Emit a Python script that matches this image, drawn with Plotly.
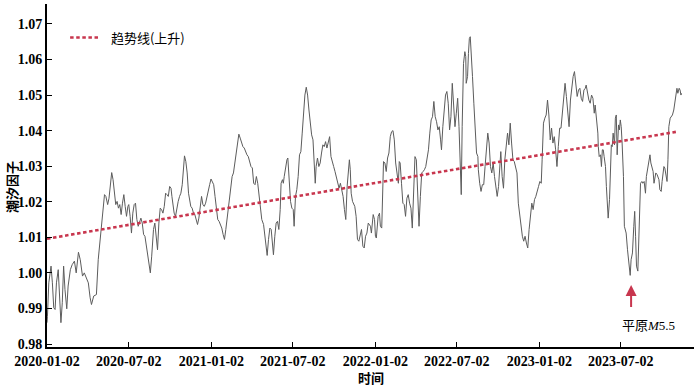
import pandas as pd
import plotly.graph_objects as go

# ---- data ----
start_date = "2020-01-02"
days_since_start = [
    0, 1, 4, 9, 12, 15, 18, 21, 25, 28, 31, 34, 37, 40, 44, 47, 52, 56, 61, 65, 70, 74, 79, 83, 87, 92, 96, 99,
    104, 110, 114, 119, 123, 128, 131, 135, 138, 141, 144, 147, 150, 153, 156, 159, 162, 165, 168, 171, 174,
    177, 180, 182, 185, 188, 191, 194, 197, 200, 203, 206, 209, 212, 215, 218, 221, 224, 227, 230, 233, 237, 240,
    243, 246, 249, 252, 255, 258, 261, 264, 267, 270, 273, 276, 278, 280, 283, 286, 289, 292, 295, 298, 301,
    304, 306, 309, 312, 315, 317, 320, 323, 326, 329, 332, 335, 338, 341, 344, 347, 350, 353, 356, 359, 362,
    365, 368, 371, 374, 377, 380, 383, 386, 389, 392, 395, 398, 401, 404, 407, 410, 412, 415, 418, 421, 424,
    427, 430, 433, 436, 439, 442, 445, 448, 451, 454, 457, 460, 463, 466, 469, 472, 475, 478,
    482, 485, 488, 490, 493, 496, 499, 502, 504, 507, 510, 513, 516, 519, 521, 524, 526, 528, 531, 534, 536,
    539, 542, 545, 548, 550, 553, 556, 559, 562, 565, 568, 571, 574, 577, 580, 583, 586, 589, 592, 595, 597,
    599, 602, 605, 608, 611, 614, 617, 620, 623, 626, 629, 632, 635, 638, 641, 644, 647, 650, 653, 656, 659,
    662, 665, 668, 671, 673, 675, 677, 680, 682, 685, 688, 691, 694, 697, 700, 703, 706, 709, 712, 715,
    720, 722, 724, 726, 729, 731, 733, 735, 737, 740, 742, 745, 747, 749, 752, 755, 758, 761, 764, 767, 770,
    773, 776, 779, 782, 784, 786, 789, 792, 795, 798, 801, 804, 807, 810, 813, 816, 819, 822, 825, 828, 831,
    834, 837, 840, 843, 846, 849, 852, 855, 858, 861, 864, 867, 870, 873, 876, 878, 881, 884, 887, 890, 893,
    896, 899, 902, 905, 908, 911, 914, 917, 920, 922, 924, 927, 930, 932, 933, 936, 938, 940, 942, 944, 947,
    950, 953, 956, 959,
    960, 963, 966, 969, 972, 975, 978, 981, 984, 987, 990, 993, 996, 999, 1002, 1005, 1008, 1010, 1013, 1016,
    1019, 1022, 1025, 1028, 1031, 1034, 1037, 1040, 1043, 1046, 1049, 1052, 1055, 1058, 1061, 1064, 1067,
    1070, 1073, 1076, 1079, 1082, 1085, 1088, 1091, 1094, 1097, 1100, 1102, 1105, 1108, 1111, 1114, 1117,
    1120, 1123, 1126, 1129, 1132, 1135, 1138, 1141, 1144, 1147, 1150, 1153, 1156, 1159, 1162, 1165, 1168,
    1171, 1174, 1177, 1180, 1183, 1186, 1189, 1192, 1195, 1198,
    1200, 1203, 1206, 1209, 1212, 1215, 1218, 1220, 1223, 1226, 1227, 1229, 1232, 1234, 1236, 1238, 1240,
    1243, 1245, 1247, 1249, 1252, 1254, 1256, 1258, 1260, 1263, 1265, 1267, 1269, 1272, 1274, 1276, 1278,
    1280, 1283, 1285, 1287, 1289, 1292, 1294, 1296, 1298, 1300, 1303, 1306, 1308, 1310, 1312, 1315, 1317,
    1319, 1321, 1324, 1326, 1329, 1332, 1334, 1337, 1340, 1342, 1344, 1346, 1349, 1351, 1353, 1355, 1358,
    1360, 1362, 1364, 1367, 1369, 1371, 1373, 1375, 1378, 1380, 1382, 1384, 1387, 1389, 1392, 1395, 1398,
    1400, 1402, 1404, 1407, 1409, 1411, 1412,
]
tidal_factor = [
    0.9860, 0.9878, 0.9972, 1.0019, 0.9972, 0.9902, 0.9897, 0.9972, 1.0009, 0.9935, 0.9860, 0.9916, 1.0019,
    0.9953, 0.9899, 0.9963, 1.0009, 1.0023, 1.0033, 1.0000, 1.0058, 1.0037, 0.9991, 1.0000, 0.9986, 0.9972,
    0.9930, 0.9911, 0.9935, 0.9939, 1.0037, 1.0103, 1.0159, 1.0220, 1.0215, 1.0192, 1.0210, 1.0252, 1.0282,
    1.0262, 1.0220, 1.0192, 1.0201, 1.0182, 1.0192, 1.0164, 1.0196, 1.0220, 1.0187, 1.0159, 1.0187, 1.0192,
    1.0159, 1.0112, 1.0168, 1.0192, 1.0196, 1.0150, 1.0131, 1.0145, 1.0154, 1.0140, 1.0108, 1.0103, 1.0075,
    1.0042, 1.0028, 1.0000, 1.0047, 1.0122, 1.0140,
    1.0103, 1.0065, 1.0140, 1.0182, 1.0178, 1.0168, 1.0187, 1.0224, 1.0220, 1.0215, 1.0243, 1.0238, 1.0215,
    1.0187, 1.0168, 1.0159, 1.0187, 1.0201, 1.0215, 1.0224, 1.0248, 1.0299, 1.0329, 1.0313, 1.0281, 1.0224,
    1.0206, 1.0187, 1.0182, 1.0168, 1.0164, 1.0150, 1.0136, 1.0154, 1.0178, 1.0215, 1.0192, 1.0187, 1.0196,
    1.0215, 1.0238, 1.0248, 1.0264, 1.0254, 1.0248, 1.0215, 1.0178, 1.0150, 1.0145, 1.0136, 1.0126, 1.0108,
    1.0094, 1.0122, 1.0154, 1.0187, 1.0215, 1.0252, 1.0271, 1.0281, 1.0309, 1.0337, 1.0365, 1.0390, 1.0379,
    1.0369, 1.0355, 1.0351, 1.0341, 1.0332, 1.0327, 1.0313, 1.0299, 1.0295, 1.0252, 1.0248, 1.0271, 1.0252,
    1.0215, 1.0178, 1.0150,
    1.0136, 1.0103, 1.0056, 1.0049, 1.0094, 1.0126, 1.0122, 1.0084, 1.0051, 1.0103, 1.0140, 1.0145, 1.0122,
    1.0178, 1.0252, 1.0262, 1.0252, 1.0271, 1.0299, 1.0318, 1.0323, 1.0243, 1.0201, 1.0182, 1.0178, 1.0131,
    1.0215, 1.0234, 1.0271, 1.0332, 1.0341, 1.0393, 1.0449, 1.0500, 1.0522, 1.0500, 1.0458, 1.0421, 1.0388,
    1.0374, 1.0309, 1.0252, 1.0299, 1.0323, 1.0299, 1.0309, 1.0337, 1.0360, 1.0355, 1.0369, 1.0351, 1.0365,
    1.0383, 1.0327, 1.0309, 1.0299, 1.0285, 1.0271, 1.0252, 1.0238, 1.0252, 1.0234, 1.0215, 1.0178, 1.0150,
    1.0243, 1.0299, 1.0318, 1.0290, 1.0224, 1.0201, 1.0196, 1.0187, 1.0159, 1.0094, 1.0089, 1.0112, 1.0122,
    1.0075, 1.0070, 1.0103, 1.0112, 1.0140,
    1.0131, 1.0112, 1.0154, 1.0164, 1.0150, 1.0103, 1.0098, 1.0131, 1.0159, 1.0168, 1.0131, 1.0126, 1.0224,
    1.0313, 1.0309, 1.0285, 1.0323, 1.0337, 1.0383, 1.0397, 1.0400, 1.0374, 1.0309, 1.0281, 1.0252, 1.0313,
    1.0309, 1.0252, 1.0196, 1.0192, 1.0159, 1.0210, 1.0220, 1.0196, 1.0182, 1.0126, 1.0243, 1.0327, 1.0318,
    1.0234, 1.0131, 1.0215, 1.0281, 1.0285, 1.0290, 1.0299, 1.0318, 1.0346, 1.0393, 1.0430, 1.0439, 1.0482,
    1.0439, 1.0425, 1.0402, 1.0411, 1.0374, 1.0346, 1.0411, 1.0458, 1.0500, 1.0510, 1.0477, 1.0402, 1.0439,
    1.0533, 1.0477, 1.0411, 1.0449, 1.0491, 1.0411, 1.0299, 1.0220, 1.0411, 1.0589, 1.0622, 1.0608, 1.0533,
    1.0552, 1.0617, 1.0659, 1.0664, 1.0626, 1.0552, 1.0477, 1.0421, 1.0337, 1.0327,
    1.0290, 1.0252, 1.0229, 1.0248, 1.0248, 1.0299, 1.0355, 1.0393, 1.0365, 1.0299, 1.0281, 1.0309, 1.0271,
    1.0243, 1.0215, 1.0243, 1.0299, 1.0341, 1.0271, 1.0238, 1.0318, 1.0355, 1.0393, 1.0360, 1.0421, 1.0365,
    1.0318, 1.0313, 1.0299, 1.0281, 1.0196, 1.0159, 1.0122, 1.0103, 1.0089, 1.0103, 1.0084, 1.0070, 1.0122,
    1.0168, 1.0196, 1.0178, 1.0206, 1.0215, 1.0234, 1.0243, 1.0257, 1.0252, 1.0318, 1.0421, 1.0435, 1.0444,
    1.0486, 1.0444, 1.0374, 1.0407, 1.0365, 1.0383, 1.0346, 1.0299, 1.0355, 1.0407, 1.0407, 1.0449, 1.0514,
    1.0533, 1.0496, 1.0449, 1.0411, 1.0486, 1.0524, 1.0552, 1.0566, 1.0528, 1.0496, 1.0514, 1.0519, 1.0491,
    1.0482, 1.0514, 1.0519,
    1.0528, 1.0505, 1.0486, 1.0477, 1.0500, 1.0491, 1.0449, 1.0472, 1.0430, 1.0393, 1.0355, 1.0327, 1.0332,
    1.0299, 1.0346, 1.0346, 1.0327, 1.0299, 1.0243, 1.0178, 1.0154, 1.0206, 1.0271, 1.0360, 1.0355, 1.0393,
    1.0360, 1.0435, 1.0444, 1.0332, 1.0416, 1.0402, 1.0430, 1.0411, 1.0365, 1.0271, 1.0131, 1.0122, 1.0112,
    1.0065, 1.0037, 1.0009, 0.9993, 1.0037, 1.0056, 1.0131, 1.0173, 1.0103, 1.0019, 1.0005, 1.0084, 1.0187,
    1.0252, 1.0257, 1.0252, 1.0257, 1.0224, 1.0271, 1.0290, 1.0309, 1.0332, 1.0309, 1.0299, 1.0285, 1.0252,
    1.0271, 1.0281, 1.0276, 1.0266, 1.0262, 1.0234, 1.0229, 1.0257, 1.0290, 1.0299, 1.0295, 1.0262, 1.0257,
    1.0318, 1.0411, 1.0435, 1.0438, 1.0444, 1.0458, 1.0486, 1.0491, 1.0519, 1.0505, 1.0519, 1.0514, 1.0500,
    1.0505,
]
trend_days = [0, 1402]
trend_values = [1.0096, 1.0397]
trend_name = "\u00a0\u00a0趋势线(上升)"

tick_dates = ["2020-01-02", "2020-07-02", "2021-01-02", "2021-07-02",
              "2022-01-02", "2022-07-02", "2023-01-02", "2023-07-02"]
y_ticks = [0.98, 0.99, 1.00, 1.01, 1.02, 1.03, 1.04, 1.05, 1.06, 1.07]

event_day = 1300          # 平原 M5.5 earthquake
event_value = 0.9966
event_label_day = 1338
event_label_value = 0.9853
event_label = "平原<i>M</i>5.5"

x_label = "时间"
y_label = "潮汐因子"

# ---- build ----
t0 = pd.Timestamp(start_date)
dates = t0 + pd.to_timedelta(days_since_start, unit="D")
trend_dates = t0 + pd.to_timedelta(trend_days, unit="D")

RED = "#c8364e"
SERIF = "Liberation Serif, Noto Sans CJK SC, serif"

fig = go.Figure()
fig.add_trace(go.Scatter(
    x=dates, y=tidal_factor, mode="lines",
    line=dict(color="#5c5c5c", width=1), showlegend=False,
))
fig.add_trace(go.Scatter(
    x=trend_dates, y=trend_values, mode="lines", name=trend_name,
    line=dict(color=RED, width=2.6, dash="3.5px,2.6px"),
))

fig.add_annotation(
    x=t0 + pd.Timedelta(days=event_day), y=event_value, xref="x", yref="y",
    text=" ", showarrow=True, arrowhead=2, arrowsize=1.1, arrowwidth=2,
    arrowcolor=RED, ax=0, ay=32, standoff=0,
)
fig.add_annotation(
    x=t0 + pd.Timedelta(days=event_label_day), y=event_label_value, xref="x", yref="y",
    text=event_label, showarrow=False,
    font=dict(family=SERIF, size=13, color="black"),
)
fig.add_annotation(
    x=0.5, y=-0.089, xref="paper", yref="paper", text=x_label, showarrow=False,
    font=dict(family="Noto Sans CJK SC", size=13, color="black", weight="bold"),
    xanchor="center", yanchor="middle",
)
fig.add_annotation(
    x=-0.056, y=0.466, xref="paper", yref="paper", text=y_label, showarrow=False,
    textangle=-90,
    font=dict(family="Noto Sans CJK SC", size=13, color="black", weight="bold"),
    xanchor="center", yanchor="middle",
)

end_date = t0 + pd.Timedelta(days=1440)
fig.update_layout(
    width=700, height=387,
    margin=dict(l=47, r=6, t=4, b=40),
    paper_bgcolor="white", plot_bgcolor="white",
    legend=dict(
        x=0.028, y=0.902, xanchor="left", yanchor="middle",
        bgcolor="rgba(0,0,0,0)",
        font=dict(family="Noto Sans CJK SC", size=13, color="black"),
    ),
    xaxis=dict(
        type="date", range=[t0, end_date],
        tickvals=tick_dates, tickformat="%Y-%m-%d",
        ticks="inside", ticklen=5, tickwidth=1, tickcolor="black",
        showline=True, linecolor="black", linewidth=2,
        showgrid=False, zeroline=False,
        tickfont=dict(family="Liberation Serif", size=14, color="black", weight="bold"),
    ),
    yaxis=dict(
        range=[0.97916, 1.0756],
        tickvals=y_ticks, tickformat=".2f",
        ticks="inside", ticklen=5, tickwidth=1, tickcolor="black",
        showline=True, linecolor="black", linewidth=2,
        showgrid=False, zeroline=False,
        tickfont=dict(family="Liberation Serif", size=14, color="black", weight="bold"),
    ),
)

fig.write_html(
    "out.html",
    config={"displayModeBar": False},
    post_script="document.body.style.margin='0';document.body.style.padding='0';",
)
